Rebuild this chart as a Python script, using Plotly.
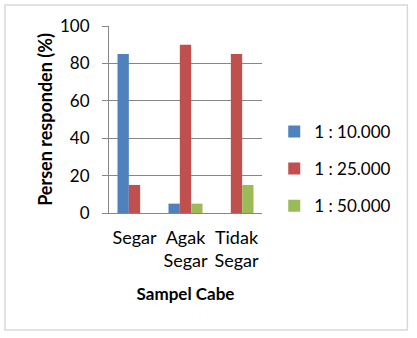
import plotly.graph_objects as go

categories = ["Segar", "Agak<br>Segar", "Tidak<br>Segar"]
series_names = ["1 : 10.000", "1 : 25.000", "1 : 50.000"]
v_10000 = [85, 5, 0]
v_25000 = [15, 90, 85]
v_50000 = [0, 5, 15]
colors = ["#4F81BD", "#C0504D", "#9BBB59"]
y_ticks = [0, 20, 40, 60, 80, 100]

fig = go.Figure()
for i, (name, vals) in enumerate(zip(series_names, [v_10000, v_25000, v_50000])):
    fig.add_trace(go.Bar(x=categories, y=vals, name=name, marker_color=colors[i],
                         marker_line_width=0, legendgroup=str(i)))

FONT = "Lato"
fig.update_layout(
    width=417, height=338,
    margin=dict(l=109, r=155, t=26, b=125),
    paper_bgcolor="white", plot_bgcolor="white",
    barmode="group", bargap=0.333, bargroupgap=0,
    font=dict(family=FONT, size=16, color="#000000"),
    showlegend=True,
    legend=dict(x=1.08, y=0.53, xanchor="left", yanchor="top",
                font=dict(size=17), tracegroupgap=12, itemwidth=30,
                bgcolor="rgba(0,0,0,0)"),
    xaxis=dict(showline=True, linecolor="#868686", linewidth=1,
               tickfont=dict(size=18), ticklabelstandoff=8,
               title=dict(text="<b>Sampel Cabe</b>", font=dict(size=17), standoff=18)),
    yaxis=dict(range=[0, 100], tickvals=y_ticks, showgrid=True, gridcolor="#868686",
               gridwidth=1, showline=True, linecolor="#868686", linewidth=1,
               ticks="outside", ticklen=6, tickcolor="#868686",
               tickfont=dict(size=17), zeroline=False, ticklabelstandoff=9,
               title=dict(text="<b>Persen responden (%)</b>", font=dict(size=18), standoff=2)),
    shapes=[dict(type="rect", xref="paper", yref="paper",
                 x0=-0.68, x1=1.95, y0=-0.626, y1=1.112,
                 line=dict(color="#D9D9D9", width=1.5), fillcolor="rgba(0,0,0,0)", layer="below")],
)

fig.write_html("out.html")
